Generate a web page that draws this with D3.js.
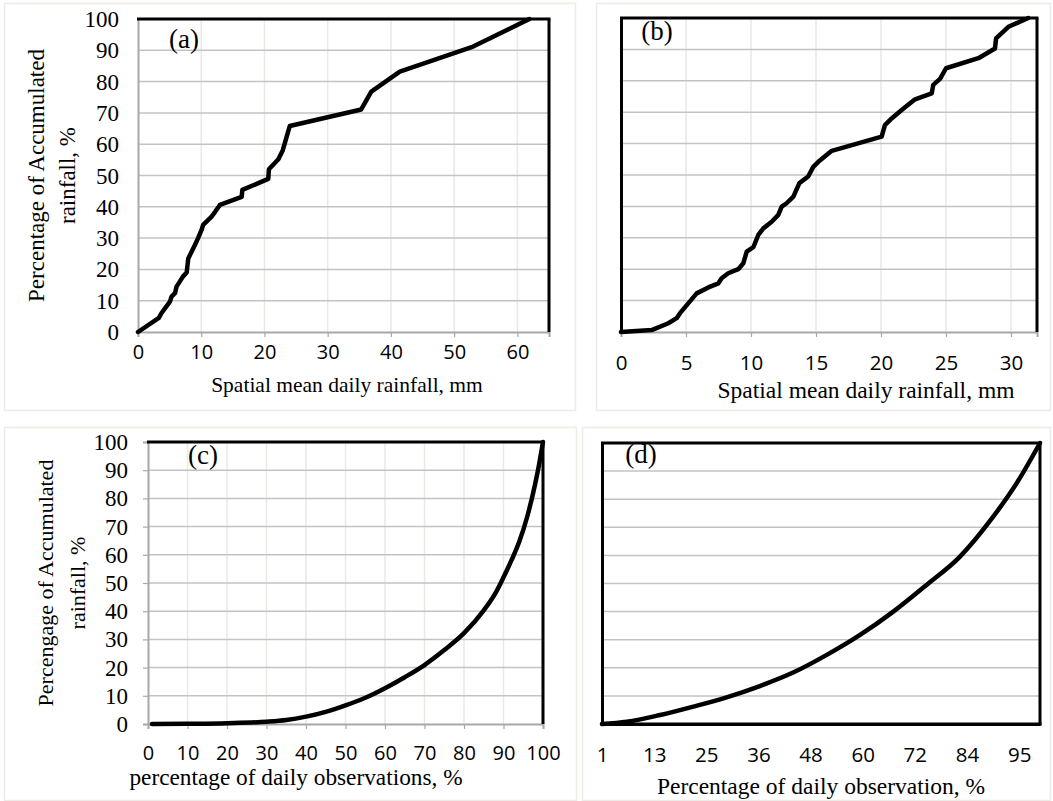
<!DOCTYPE html>
<html>
<head>
<meta charset="utf-8">
<script src="https://cdn.jsdelivr.net/npm/d3@7"></script>
<style>
  html, body { margin: 0; padding: 0; background: #ffffff; }
  svg { display: block; }
</style>
</head>
<body>
<svg id="chart" width="1053" height="801"></svg>
<script>
// ---------- Data ----------
// Panel (a): spatial mean daily rainfall (mm) vs accumulated rainfall (%)
const aX = [0, 3.3, 3.7, 5.05, 5.3, 5.85, 6.1, 7.1, 7.7, 7.95, 9.0, 9.5, 10.05, 10.3, 11.6, 12.2, 12.95, 16.4, 16.5, 20.6, 20.7, 22.2, 22.9, 24.0, 35.3, 36.9, 41.4, 53.0, 61.9];
const aY = [0, 4.5, 6.0, 9.7, 11.3, 12.4, 14.5, 17.7, 19.0, 23.5, 27.8, 30.0, 32.6, 34.2, 36.8, 38.4, 40.6, 43.2, 45.4, 48.9, 52.0, 55.2, 58.1, 65.8, 71.1, 76.8, 83.2, 91.2, 100];

// Panel (b)
const bX = [0, 2.36, 3.64, 4.28, 4.54, 5.82, 6.72, 7.49, 7.74, 8.25, 9.02, 9.41, 9.67, 10.18, 10.56, 10.95, 11.59, 12.1, 12.36, 12.74, 13.26, 13.72, 14.4, 14.79, 15.18, 16.21, 20.05, 20.3, 20.82, 21.59, 22.62, 23.9, 24.02, 24.54, 25.0, 27.49, 28.77, 28.85, 29.8, 31.33];
const bY = [0, 0.6, 2.8, 4.4, 6.0, 12.3, 14.2, 15.5, 17.1, 18.7, 20.0, 21.9, 25.6, 27.0, 30.9, 33.0, 35.1, 37.3, 39.9, 41.0, 43.1, 47.4, 49.5, 52.6, 54.2, 57.7, 62.2, 65.9, 68.0, 70.7, 74.1, 76.0, 78.7, 80.6, 84.0, 87.2, 90.3, 93.5, 97.2, 100];

// Panel (c): percentage of daily observations vs accumulated rainfall
const cX = [1, 10, 20, 30, 35, 40, 45, 50, 55, 60, 65, 70, 75, 80, 85, 88, 90, 92, 94, 96, 98, 99, 100];
const cY = [0, 0.1, 0.3, 0.8, 1.4, 2.6, 4.3, 6.6, 9.3, 12.7, 16.6, 20.9, 26.2, 32.2, 40.3, 46.5, 52.0, 58.0, 64.7, 73.5, 85.0, 92.0, 100];

// Panel (d)
const dX = [1.18, 6.8, 14.3, 21.8, 29.3, 36.8, 44.3, 51.9, 59.4, 66.9, 74.4, 81.9, 89.4, 94.7, 100];
const dY = [0, 0.8, 3.2, 6.2, 9.5, 13.5, 18.3, 24.6, 31.7, 40.0, 49.5, 59.5, 73.7, 85.6, 100];

// Tick values / labels
const yTicks = [0, 10, 20, 30, 40, 50, 60, 70, 80, 90, 100];
const xTicksA = [0, 10, 20, 30, 40, 50, 60];
const xTicksB = [0, 5, 10, 15, 20, 25, 30];
const xTicksC = [0, 10, 20, 30, 40, 50, 60, 70, 80, 90, 100];
const xTicksD = [1.18, 12.94, 24.71, 36.47, 48.24, 60.0, 71.76, 83.53, 95.29];
const xTickLabelsD = ["1", "13", "25", "36", "48", "60", "72", "84", "95"];

const panelLabels = ["(a)", "(b)", "(c)", "(d)"];
const xTitles = ["Spatial mean daily rainfall, mm", "Spatial mean daily rainfall, mm",
                 "percentage of daily observations, %", "Percentage of daily observation, %"];
const yTitleA = ["Percentage of Accumulated", "rainfall, %"];
const yTitleC = ["Percengage of Accumulated", "rainfall, %"];

// ---------- Drawing ----------
const svg = d3.select("#chart");
const SERIF = "'Liberation Serif', 'Times New Roman', serif";
const SANS = "'Open Sans', 'Noto Sans', sans-serif";
const GRID_H = "#c3c3c3", GRID_V = "#ece9e3", AXIS_GRAY = "#a8a8a8";

function drawPanel(p) {
  // chart-area box
  svg.append("rect").attr("x", p.box[0] + 0.5).attr("y", p.box[1] + 0.5)
    .attr("width", p.box[2] - p.box[0]).attr("height", p.box[3] - p.box[1])
    .attr("fill", "#fff").attr("stroke", "#eeebe6").attr("stroke-width", 1.5);

  const x = d3.scaleLinear().domain(p.xDomain).range([p.left, p.right]);
  const y = d3.scaleLinear().domain([0, 100]).range([p.bottom, p.top]);
  const g = svg.append("g");

  // vertical gridlines
  if (p.vGrid) {
    g.append("g").selectAll("line").data(p.xTicks.filter(v => v > p.xDomain[0] && v < p.xDomain[1]))
      .join("line")
      .attr("x1", d => x(d)).attr("x2", d => x(d))
      .attr("y1", p.top).attr("y2", p.bottom)
      .attr("stroke", GRID_V).attr("stroke-width", 1.5);
  }
  // horizontal gridlines
  g.append("g").selectAll("line").data(yTicks.filter(v => v > 0 && v < 100))
    .join("line")
    .attr("x1", p.left).attr("x2", p.right)
    .attr("y1", d => y(d)).attr("y2", d => y(d))
    .attr("stroke", GRID_H).attr("stroke-width", 1.5);

  // x axis (D3 axis, styled)
  const xAxis = d3.axisBottom(x).tickValues(p.xTicks).tickSize(p.xTickLen).tickPadding(0)
    .tickFormat((d, i) => p.xLabels ? p.xLabels[i] : d3.format("d")(d));
  const xa = g.append("g").attr("transform", `translate(0,${p.bottom})`).call(xAxis)
    .attr("font-family", null).attr("font-size", null);
  xa.select(".domain").attr("stroke", p.bottomColor).attr("stroke-width", p.bottomWidth);
  xa.selectAll(".tick line").attr("stroke", AXIS_GRAY).attr("stroke-width", 1.2);
  xa.selectAll(".tick text").style("font-family", SANS).style("font-size", p.xTickSize + "px")
    .attr("fill", "#000").attr("y", p.xLabelY - p.bottom).attr("dy", 0);

  // y axis
  const yAxis = d3.axisLeft(y).tickValues(yTicks).tickSize(p.yTickLen).tickPadding(0)
    .tickFormat(p.yLabels ? d3.format("d") : () => "");
  const ya = g.append("g").attr("transform", `translate(${p.left},0)`).call(yAxis)
    .attr("font-family", null).attr("font-size", null);
  ya.select(".domain").attr("stroke", p.leftColor).attr("stroke-width", p.leftWidth);
  ya.selectAll(".tick line").attr("stroke", AXIS_GRAY).attr("stroke-width", 1.2);
  ya.selectAll(".tick text").style("font-family", SERIF).style("font-size", "23px")
    .attr("fill", "#000").attr("x", p.yLabelX - p.left).attr("dy", "0.33em");

  // top & right frame
  g.append("line").attr("x1", p.left - 1).attr("x2", p.right + 1.5).attr("y1", p.top).attr("y2", p.top)
    .attr("stroke", "#000").attr("stroke-width", 3);
  g.append("line").attr("x1", p.right).attr("x2", p.right).attr("y1", p.top).attr("y2", p.bottom + (p.blackBottom ? 1.5 : 0))
    .attr("stroke", "#000").attr("stroke-width", 3);
  if (p.blackBottom) {
    g.append("line").attr("x1", p.left - 1.5).attr("x2", p.right + 1.5).attr("y1", p.bottom).attr("y2", p.bottom)
      .attr("stroke", "#000").attr("stroke-width", 3);
  }

  // data line
  const line = d3.line().x(d => x(d[0])).y(d => y(d[1])).curve(p.curve);
  g.append("path").datum(d3.zip(p.xs, p.ys))
    .attr("d", line).attr("fill", "none").attr("stroke", "#000")
    .attr("stroke-width", 4.5).attr("stroke-linejoin", "round").attr("stroke-linecap", "round");

  // panel label
  g.append("text").attr("x", p.labelPos[0]).attr("y", p.labelPos[1])
    .attr("text-anchor", "middle").style("font-family", SERIF).style("font-size", "27px")
    .text(p.label);

  // x title
  g.append("text").attr("x", p.xTitlePos[0]).attr("y", p.xTitlePos[1])
    .attr("text-anchor", "middle").style("font-family", SERIF).style("font-size", p.xTitleSize + "px")
    .text(p.xTitle);

  // y title
  if (p.yTitle) {
    const cy = (p.top + p.bottom) / 2;
    p.yTitle.forEach((t, i) => {
      g.append("text")
        .attr("transform", `translate(${p.yTitleX[i]},${cy}) rotate(-90)`)
        .attr("text-anchor", "middle").style("font-family", SERIF).style("font-size", p.yTitleSize + "px")
        .text(t);
    });
  }
}

drawPanel({
  box: [4, 3, 575, 410], left: 138, right: 549, top: 19, bottom: 332,
  xDomain: [0, 65], xTicks: xTicksA, xTickLen: 5, yTickLen: 0, xLabelY: 359, xTickSize: 20,
  yLabels: true, yLabelX: 119, vGrid: true,
  leftColor: AXIS_GRAY, leftWidth: 2, bottomColor: AXIS_GRAY, bottomWidth: 2,
  xs: aX, ys: aY, curve: d3.curveLinear,
  label: panelLabels[0], labelPos: [184, 48],
  xTitle: xTitles[0], xTitlePos: [347, 392], xTitleSize: 21.5,
  yTitle: yTitleA, yTitleX: [44, 75], yTitleSize: 23
});

drawPanel({
  box: [596, 3, 1050, 410], left: 621, right: 1037, top: 18, bottom: 332,
  xDomain: [0, 32], xTicks: xTicksB, xTickLen: 5, yTickLen: 0, xLabelY: 370, xTickSize: 20.5,
  yLabels: false, yLabelX: 600, vGrid: true,
  leftColor: "#000", leftWidth: 3, bottomColor: AXIS_GRAY, bottomWidth: 2,
  xs: bX, ys: bY, curve: d3.curveLinear,
  label: panelLabels[1], labelPos: [657, 40],
  xTitle: xTitles[1], xTitlePos: [866, 398], xTitleSize: 23.5,
  yTitle: null
});

drawPanel({
  box: [4, 427, 576, 800], left: 148, right: 543, top: 442, bottom: 724,
  xDomain: [0, 100], xTicks: xTicksC, xTickLen: 5, yTickLen: 5, xLabelY: 760, xTickSize: 20,
  yLabels: true, yLabelX: 128, vGrid: true,
  leftColor: AXIS_GRAY, leftWidth: 2, bottomColor: AXIS_GRAY, bottomWidth: 2,
  xs: cX, ys: cY, curve: d3.curveMonotoneX,
  label: panelLabels[2], labelPos: [203, 464],
  xTitle: xTitles[2], xTitlePos: [296, 785], xTitleSize: 23.3,
  yTitle: yTitleC, yTitleX: [53, 85], yTitleSize: 22
});

drawPanel({
  box: [582, 427, 1050, 800], left: 602, right: 1040, top: 443, bottom: 724,
  xDomain: [1.18, 100], xTicks: xTicksD, xLabels: xTickLabelsD, xTickLen: 0, yTickLen: 0, xLabelY: 762, xTickSize: 20.5,
  yLabels: false, yLabelX: 590, vGrid: false, blackBottom: true,
  leftColor: "#000", leftWidth: 3, bottomColor: "#000", bottomWidth: 3,
  xs: dX, ys: dY, curve: d3.curveMonotoneX,
  label: panelLabels[3], labelPos: [641, 463],
  xTitle: xTitles[3], xTitlePos: [821, 794], xTitleSize: 23.5,
  yTitle: null
});
</script>
</body>
</html>
